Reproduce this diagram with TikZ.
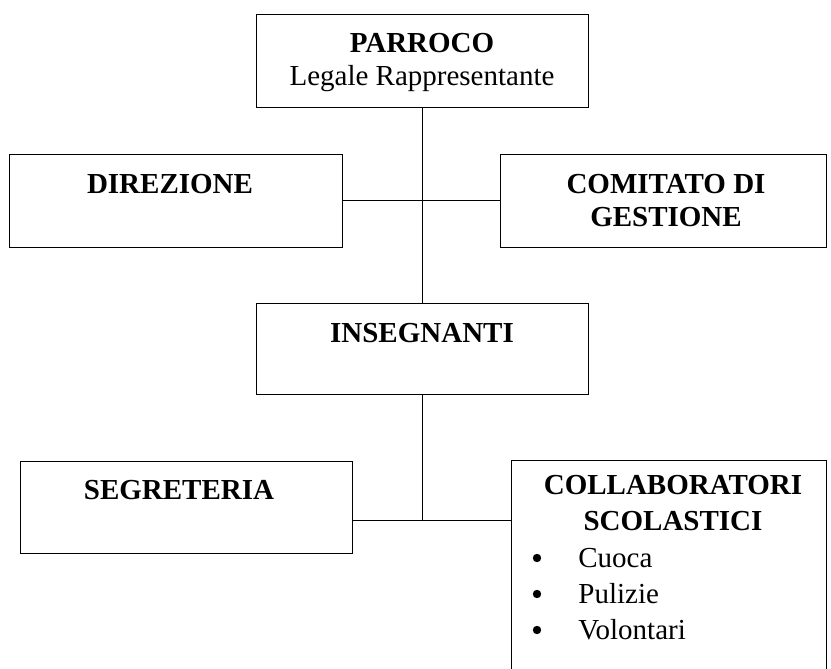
\documentclass[tikz,border=0pt]{standalone}
\usepackage{fontspec}
\setmainfont{Liberation Serif}
\usepackage{tikz}
\tikzset{line width=1.2pt,
  box/.style={draw, rectangle, inner sep=0pt, minimum width=166pt, minimum height=46.5pt},
  head/.style={anchor=base, inner sep=0pt, font=\fontsize{14.5pt}{16.5pt}\selectfont\bfseries},
  plain/.style={anchor=base, inner sep=0pt, font=\fontsize{14.5pt}{16.5pt}\selectfont},
  item/.style={anchor=base west, inner sep=0pt, font=\fontsize{14.5pt}{16.5pt}\selectfont},
  dot/.style={circle, fill=black, inner sep=0pt, minimum size=4.2pt}}

\begin{document}
\begin{tikzpicture}[x=0.5pt, y=-0.5pt]
\useasboundingbox (0,0) rectangle (831,669);
\clip (0,0) rectangle (831,669);
% boxes
\node[box] (parroco) at (422, 60.5) {};
\node[box, minimum width=166.5pt] (direzione) at (175.5, 200.5) {};
\node[box, minimum width=163pt] (comitato) at (663, 200.5) {};
\node[box, minimum height=45.5pt] (insegnanti) at (422, 348.5) {};
\node[box, minimum height=46pt] (segreteria) at (186, 507) {};
\node[box, minimum width=157.5pt, minimum height=120pt] (collaboratori) at (668.5, 580) {};
% connectors
\coordinate (junction) at (422, 520);
\draw (parroco) -- (insegnanti);
\draw (direzione) -- (comitato);
\draw (insegnanti) -- (junction);
\draw (segreteria.east |- junction) -- (collaboratori.west |- junction);
% texts
\node[head] (parroco-title) at (422, 53) {PARROCO};
\node[plain] (parroco-role) at (422, 85) {Legale Rappresentante};
\node[head] (direzione-title) at (170, 193) {DIREZIONE};
\node[head] (comitato-title1) at (666, 193) {COMITATO DI};
\node[head] (comitato-title2) at (666, 226) {GESTIONE};
\node[head] (insegnanti-title) at (422, 342) {INSEGNANTI};
\node[head] (segreteria-title) at (179, 499) {SEGRETERIA};
\node[head] (collab-title1) at (673, 494) {COLLABORATORI};
\node[head] (collab-title2) at (673, 530) {SCOLASTICI};
\foreach \name/\y in {Cuoca/567, Pulizie/603, Volontari/639} {
  \node[dot] (dot-\name) at (537, \y-9) {};
  \node[item] (item-\name) at (578, \y) {\name};
}
\end{tikzpicture}
\end{document}
